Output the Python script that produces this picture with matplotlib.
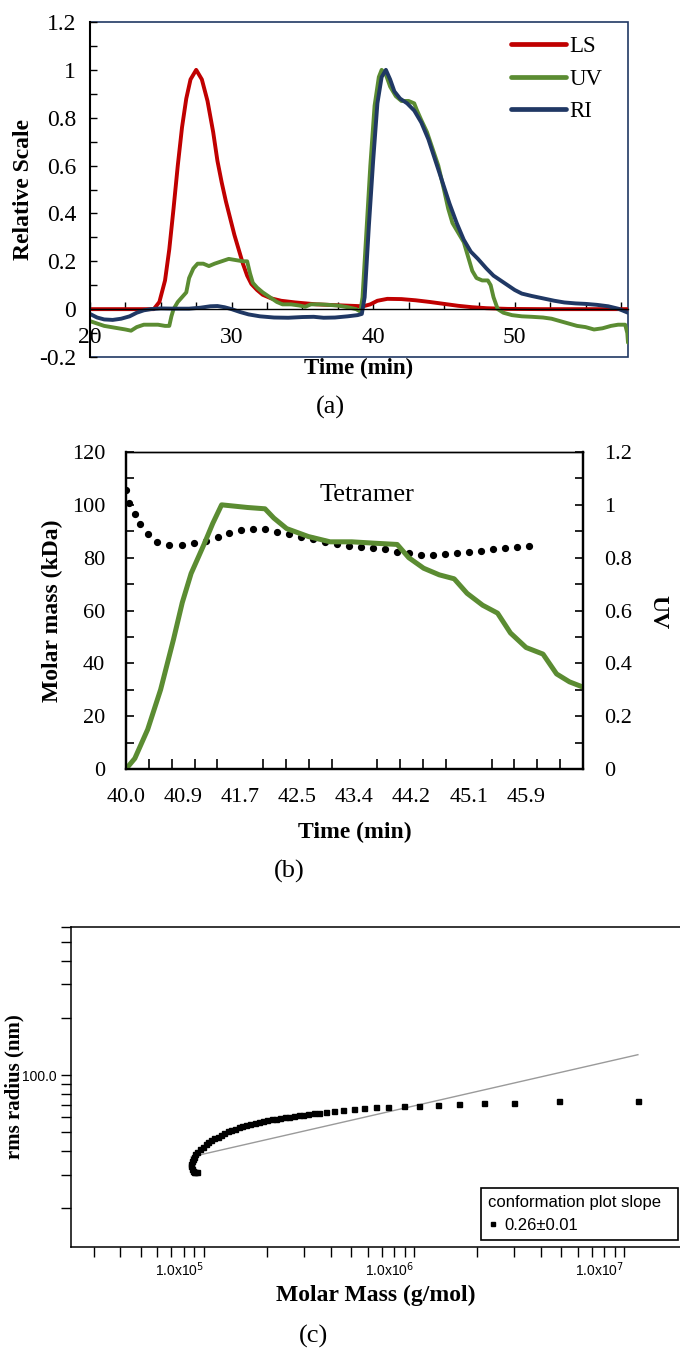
import numpy as np
import matplotlib
matplotlib.use("Agg")
import matplotlib.pyplot as plt
from matplotlib.patches import Rectangle
from matplotlib.ticker import MultipleLocator, FixedLocator, LogLocator, NullFormatter, FuncFormatter

plt.rcParams['font.family'] = ['Liberation Serif', 'DejaVu Serif']
plt.rcParams['mathtext.fontset'] = 'custom'
plt.rcParams['mathtext.rm'] = 'Liberation Sans Narrow'
plt.rcParams['mathtext.it'] = 'Liberation Sans Narrow'
plt.rcParams['mathtext.bf'] = 'Liberation Sans Narrow'
NARROW = ['Liberation Sans Narrow', 'Liberation Sans', 'DejaVu Sans']

# ---- (a) chromatogram ------------------------------------------------------
ls_t = [20, 24.0, 24.5, 24.9, 25.3, 25.6, 25.9, 26.2, 26.5, 26.8, 27.1, 27.5, 27.9, 28.3,
        28.7, 29.0, 29.3, 29.6, 29.9, 30.2, 30.5, 30.8, 31.1, 31.4, 31.8, 32.2, 32.8, 33.5,
        34.5, 36.0, 38.0, 39.3, 39.8, 40.3, 41.0, 42.0, 43.0, 44.0, 45.0, 46.0, 47.0, 48.0,
        49.5, 52.0, 58.0]
ls_v = [0, 0, 0.0, 0.03, 0.12, 0.25, 0.42, 0.6, 0.76, 0.88, 0.96, 1.0, 0.96, 0.87,
        0.74, 0.62, 0.53, 0.45, 0.38, 0.31, 0.25, 0.19, 0.14, 0.105, 0.08, 0.06, 0.045, 0.035,
        0.028, 0.02, 0.015, 0.012, 0.02, 0.035, 0.043, 0.042, 0.037, 0.03, 0.022, 0.014, 0.008, 0.004,
        0.001, 0, 0]

uv_t = [20.0, 20.5, 21.0, 21.5, 22.0, 22.5, 22.9, 23.3, 23.8, 24.3, 24.8, 25.3, 25.6, 25.75,
        25.9, 26.2, 26.5, 26.8, 27.0, 27.3, 27.6, 28.0, 28.4, 28.8, 29.3, 29.8, 30.3, 30.8,
        31.1, 31.3, 31.5, 31.8, 32.2, 32.7, 33.2, 33.6, 34.2, 34.8, 35.2, 35.6, 36.2, 36.8,
        37.5, 38.2, 38.8, 39.1, 39.25, 39.5, 39.8, 40.1, 40.4, 40.6, 40.9, 41.2, 41.6, 42.0,
        42.5, 42.9, 43.1, 43.4, 43.8, 44.2, 44.6, 45.0, 45.3, 45.6, 46.0, 46.4, 46.7, 47.0,
        47.3, 47.7, 48.1, 48.3, 48.5, 48.8, 49.2, 49.8, 50.5, 51.2, 52.0, 52.6, 53.2, 53.8,
        54.4, 55.0, 55.6, 56.2, 56.8, 57.3, 57.8, 57.95, 58.0]
uv_v = [-0.05, -0.06, -0.07, -0.075, -0.08, -0.085, -0.09, -0.075, -0.065, -0.065, -0.065, -0.07, -0.07, -0.03,
        0.0, 0.03, 0.05, 0.07, 0.13, 0.17, 0.19, 0.19, 0.18, 0.19, 0.2, 0.21, 0.205, 0.2,
        0.2, 0.15, 0.11, 0.09, 0.07, 0.05, 0.03, 0.02, 0.02, 0.015, 0.01, 0.02, 0.02, 0.018,
        0.015, 0.008, 0.0, -0.01, 0.05, 0.3, 0.6, 0.85, 0.97, 1.0, 0.98, 0.93, 0.89, 0.87,
        0.87, 0.86, 0.83, 0.79, 0.74, 0.67, 0.6, 0.5, 0.42, 0.36, 0.32, 0.28, 0.22, 0.16,
        0.13, 0.12, 0.12, 0.1, 0.05, 0.0, -0.015, -0.025, -0.03, -0.032, -0.035, -0.04, -0.05, -0.06,
        -0.07, -0.075, -0.085, -0.08, -0.07, -0.065, -0.065, -0.1, -0.14]

ri_t = [20.0, 20.5, 21.0, 21.6, 22.2, 22.8, 23.3, 23.8, 24.3, 25.0, 26.0, 27.0, 27.8, 28.5,
        29.0, 29.5, 30.0, 30.6, 31.2, 32.0, 33.0, 34.0, 35.0, 35.8, 36.5, 37.3, 38.2, 38.9,
        39.2, 39.4, 39.7, 40.0, 40.3, 40.6, 40.9, 41.2, 41.5, 41.9, 42.4, 42.9, 43.4, 43.9,
        44.4, 44.9, 45.4, 45.9, 46.4, 46.9, 47.4, 48.0, 48.5, 49.0, 49.5, 50.0, 50.5, 51.2,
        52.0, 52.8, 53.5, 54.3, 55.0, 55.8, 56.6, 57.3, 58.0]
ri_v = [-0.02, -0.035, -0.043, -0.045, -0.04, -0.03, -0.015, -0.005, 0.0, 0.003, 0.002, 0.002, 0.006, 0.012,
        0.013, 0.008, 0.0, -0.012, -0.022, -0.03, -0.035, -0.036, -0.033, -0.032, -0.036, -0.035, -0.03, -0.025,
        -0.02, 0.05, 0.35, 0.62, 0.86, 0.97, 1.0, 0.96, 0.91, 0.88, 0.86, 0.83, 0.78, 0.71,
        0.62, 0.53, 0.44, 0.36, 0.29, 0.24, 0.21, 0.17, 0.14, 0.12, 0.1, 0.08, 0.065, 0.055,
        0.045, 0.035, 0.028, 0.024, 0.022, 0.018, 0.012, 0.002, -0.015]

# ---- (b) tetramer slice ---------------------------------------------------
b_time_range = (40.0, 46.74)
b_xticklabels = ['40.0', '40.9', '41.7', '42.5', '43.4', '44.2', '45.1', '45.9']
b_uv_t = [40.0, 40.13, 40.32, 40.51, 40.70, 40.83, 40.96, 41.15, 41.28, 41.41, 41.6, 41.79, 42.05,
          42.18, 42.37, 42.69, 43.01, 43.33, 43.65, 44.0, 44.17, 44.39, 44.62, 44.84, 45.03, 45.26,
          45.48, 45.67, 45.9, 46.15, 46.35, 46.54, 46.74]
b_uv_v = [0, 0.04, 0.15, 0.30, 0.49, 0.63, 0.74, 0.85, 0.93, 1.0, 0.995, 0.99, 0.985,
          0.95, 0.91, 0.88, 0.86, 0.86, 0.855, 0.85, 0.80, 0.76, 0.735, 0.72, 0.665, 0.62,
          0.59, 0.515, 0.46, 0.435, 0.36, 0.33, 0.31]
mm_t = [40.0, 40.05, 40.13, 40.2, 40.32, 40.46, 40.64, 40.82, 41.0, 41.18, 41.35, 41.52, 41.70,
        41.87, 42.05, 42.22, 42.4, 42.58, 42.76, 42.94, 43.11, 43.29, 43.46, 43.64, 43.82, 44.0,
        44.17, 44.35, 44.53, 44.7, 44.88, 45.06, 45.24, 45.42, 45.59, 45.77, 45.95]
mm_kda = [105.5, 100.8, 96.7, 92.7, 88.9, 86.0, 84.8, 84.8, 85.4, 86.3, 87.9, 89.4, 90.4,
          90.8, 90.7, 89.8, 88.9, 87.9, 86.9, 86.0, 85.1, 84.6, 84.1, 83.6, 83.1, 82.2,
          81.6, 81.1, 81.1, 81.2, 81.7, 82.1, 82.6, 83.1, 83.6, 84.1, 84.6]

# ---- (c) conformation plot ------------------------------------------------
c_mass = [9.25e4, 9.1e4, 8.95e4, 8.85e4, 8.75e4, 8.7e4, 8.7e4, 8.75e4, 8.85e4, 8.95e4, 9.1e4,
          9.3e4, 9.6e4, 9.9e4, 1.02e5, 1.05e5, 1.08e5, 1.12e5, 1.16e5, 1.2e5, 1.25e5, 1.3e5,
          1.35e5, 1.4e5, 1.46e5, 1.52e5, 1.59e5, 1.66e5, 1.74e5, 1.82e5, 1.91e5, 2.0e5, 2.1e5,
          2.2e5, 2.3e5, 2.42e5, 2.55e5, 2.68e5, 2.82e5, 2.97e5, 3.14e5, 3.32e5, 3.52e5, 3.8e5,
          4.15e5, 4.6e5, 5.15e5, 5.8e5, 6.55e5, 7.5e5, 8.9e5, 1.05e6, 1.30e6, 1.64e6, 2.14e6,
          2.98e6, 4.87e6, 1.16e7]
c_rms = [31.0, 30.8, 31.0, 31.5, 32.3, 33.2, 34.2, 35.2, 36.3, 37.3, 38.4,
         39.5, 40.8, 42.0, 43.2, 44.3, 45.4, 46.5, 47.5, 48.5, 49.5, 50.6,
         51.5, 52.3, 53.2, 54.0, 54.8, 55.5, 56.2, 56.9, 57.5, 58.1, 58.6,
         59.1, 59.6, 60.1, 60.6, 61.0, 61.5, 61.9, 62.4, 62.9, 63.4, 64.0,
         64.7, 65.6, 66.3, 67.0, 67.6, 68.1, 68.7, 69.0, 70.0, 70.6, 71.5,
         71.5, 73.0, 73.0]
fit_mass = [8.7e4, 1.16e7]
fit_rms = [37.2, 128.0]
slope_label = '0.26\u00b10.01'

RED, GREEN, NAVY = '#C00000', '#5B8C32', '#203864'

fig = plt.figure(figsize=(6.8, 13.53), dpi=100)
W, H = 680.0, 1353.0

def box(l, t, r, b):
    return [l / W, 1 - b / H, (r - l) / W, (b - t) / H]

def excel_fmt(v, p):
    if abs(v) < 1e-9:
        return '0'
    if abs(v - 1) < 1e-9:
        return '1'
    return '%.1f' % v

# ===== panel (a) =====
ax = fig.add_axes(box(90, 22, 628, 357))
ax.plot(ls_t, ls_v, color=RED, lw=2.8, label='LS', solid_capstyle='round')
ax.plot(uv_t, uv_v, color=GREEN, lw=2.8, label='UV', solid_capstyle='round')
ax.plot(ri_t, ri_v, color=NAVY, lw=2.8, label='RI', solid_capstyle='round')
ax.set_xlim(20, 58)
ax.set_ylim(-0.2, 1.2)
ax.yaxis.set_major_locator(MultipleLocator(0.2))
ax.yaxis.set_minor_locator(MultipleLocator(0.1))
ax.yaxis.set_major_formatter(FuncFormatter(excel_fmt))
ax.xaxis.set_major_locator(MultipleLocator(10))
ax.xaxis.set_minor_locator(MultipleLocator(2.5))
ax.spines['bottom'].set_position(('data', 0))
ax.spines['bottom'].set_linewidth(1.0)
ax.spines['left'].set_linewidth(1.5)
ax.spines['top'].set_visible(False)
ax.spines['right'].set_visible(False)
ax.add_patch(Rectangle((0, 0), 1, 1, transform=ax.transAxes, fill=False,
                       edgecolor=NAVY, lw=1.2, clip_on=False, zorder=0.5))
ax.tick_params(axis='both', which='both', direction='in', labelsize=17, length=5, width=1)
ax.tick_params(axis='x', pad=13)
ax.tick_params(axis='y', pad=10)
ax.set_ylabel('Relative Scale', fontsize=17, fontweight='bold')
ax.yaxis.set_label_coords(-0.105, 0.5)
ax.set_xlabel('Time (min)', fontsize=16.5, fontweight='bold')
ax.xaxis.set_label_coords(0.5, -0.003)
leg = ax.legend(loc='upper right', bbox_to_anchor=(0.97, 0.985), frameon=False, fontsize=16.5,
                handlelength=2.4, handletextpad=0.15, labelspacing=0.5, borderaxespad=0)
for h in leg.get_lines():
    h.set_linewidth(3.4)
fig.text(330 / W, 1 - 407 / H, '(a)', fontsize=19, ha='center', va='center')

# ===== panel (b) =====
bx = fig.add_axes(box(126, 452, 583, 769))
bx.plot(mm_t, mm_kda, linestyle='none', marker='o', markersize=4.2, color='black', clip_on=True)
bx.set_xlim(*b_time_range)
bx.set_ylim(0, 120)
bx.yaxis.set_major_locator(MultipleLocator(20))
bx.yaxis.set_minor_locator(MultipleLocator(10))
major_pos = np.linspace(b_time_range[0], b_time_range[1], 9)[:-1]
minor_pos = np.linspace(b_time_range[0], b_time_range[1], 21)
bx.xaxis.set_major_locator(FixedLocator(major_pos))
bx.set_xticklabels(b_xticklabels)
bx.xaxis.set_minor_locator(FixedLocator(minor_pos))
bx.tick_params(axis='x', which='major', length=0, pad=14, labelsize=16)
bx.tick_params(axis='x', which='minor', direction='in', length=7, width=1.2)
bx.tick_params(axis='y', which='both', direction='in', length=6, width=1.2, labelsize=16, pad=15)
for s in bx.spines.values():
    s.set_linewidth(1.6)
bx.spines['top'].set_linewidth(1.0)
bx.set_ylabel('Molar mass (kDa)', fontsize=17, fontweight='bold')
bx.yaxis.set_label_coords(-0.137, 0.5)
bx.set_xlabel('Time (min)', fontsize=17, fontweight='bold')
bx.xaxis.set_label_coords(0.5, -0.167)
bx.text(43.56, 103.7, 'Tetramer', fontsize=19, ha='center', va='center')

bx2 = bx.twinx()
bx2.plot(b_uv_t, b_uv_v, color=GREEN, lw=3.6, solid_capstyle='round')
bx2.set_ylim(0, 1.2)
bx2.yaxis.set_major_locator(MultipleLocator(0.2))
bx2.yaxis.set_minor_locator(MultipleLocator(0.1))
bx2.yaxis.set_major_formatter(FuncFormatter(excel_fmt))
bx2.tick_params(axis='y', which='both', direction='in', length=6, width=1.2, labelsize=16, pad=15)
for s in bx2.spines.values():
    s.set_linewidth(1.6)
bx2.spines['top'].set_linewidth(1.0)
bx2.set_ylabel('UV', fontsize=17, fontweight='bold', rotation=270, va='bottom')
bx2.yaxis.set_label_coords(1.14, 0.495)
fig.text(289 / W, 1 - 871 / H, '(b)', fontsize=19, ha='center', va='center')

# ===== panel (c) =====
cx = fig.add_axes(box(71, 927, 680, 1247))
cx.set_xscale('log')
cx.set_yscale('log')
cx.plot(fit_mass, fit_rms, color='#9a9a9a', lw=1.0, zorder=2)
cx.plot(c_mass, c_rms, linestyle='none', marker='s', markersize=3.6, color='black', zorder=3)
cx.set_xlim(2.33e4, 1.84e7)
cx.set_ylim(12.5, 600)
cx.spines['right'].set_visible(False)
for s in ['left', 'top', 'bottom']:
    cx.spines[s].set_linewidth(1.1)
cx.xaxis.set_major_locator(LogLocator(base=10))
cx.xaxis.set_minor_locator(LogLocator(base=10, subs=np.arange(2, 10)))
cx.xaxis.set_minor_formatter(NullFormatter())
cx.xaxis.set_major_formatter(FuncFormatter(lambda v, p: '1.0x10$^{%d}$' % round(np.log10(v))))
cx.yaxis.set_major_locator(FixedLocator([100]))
cx.yaxis.set_minor_locator(LogLocator(base=10, subs=np.arange(2, 10)))
cx.yaxis.set_minor_formatter(NullFormatter())
cx.yaxis.set_major_formatter(FuncFormatter(lambda v, p: '%.1f' % v))
cx.tick_params(axis='both', which='both', direction='out', length=7, width=1.0, labelsize=10)
cx.tick_params(axis='x', pad=3)
for lab in cx.get_xticklabels() + cx.get_yticklabels():
    lab.set_family(NARROW)
for lab in cx.get_xticklabels():
    lab.set_horizontalalignment('right')
cx.set_xlabel('Molar Mass (g/mol)', fontsize=17, fontweight='bold')
cx.xaxis.set_label_coords(0.5, -0.119)
cx.set_ylabel('rms radius (nm)', fontsize=15, fontweight='bold')
cx.yaxis.set_label_coords(-0.0765, 0.5)
handle = plt.Line2D([], [], linestyle='none', marker='s', markersize=3.2, color='black')
cleg = cx.legend([handle], [slope_label], title='conformation plot slope',
                 loc='upper left', bbox_to_anchor=(481 / W, 1 - 1239 / H, 197 / W, 51 / H),
                 bbox_transform=fig.transFigure, mode='expand', alignment='left',
                 fancybox=False, framealpha=1, edgecolor='black',
                 prop={'family': NARROW, 'size': 12}, title_fontproperties={'family': NARROW, 'size': 12},
                 handlelength=0.6, handletextpad=0.4, borderpad=0.4, borderaxespad=0)
cleg.get_frame().set_linewidth(1.2)
fig.text(313 / W, 1 - 1336 / H, '(c)', fontsize=19, ha='center', va='center')

fig.savefig('out.png', dpi=100, facecolor='white')
